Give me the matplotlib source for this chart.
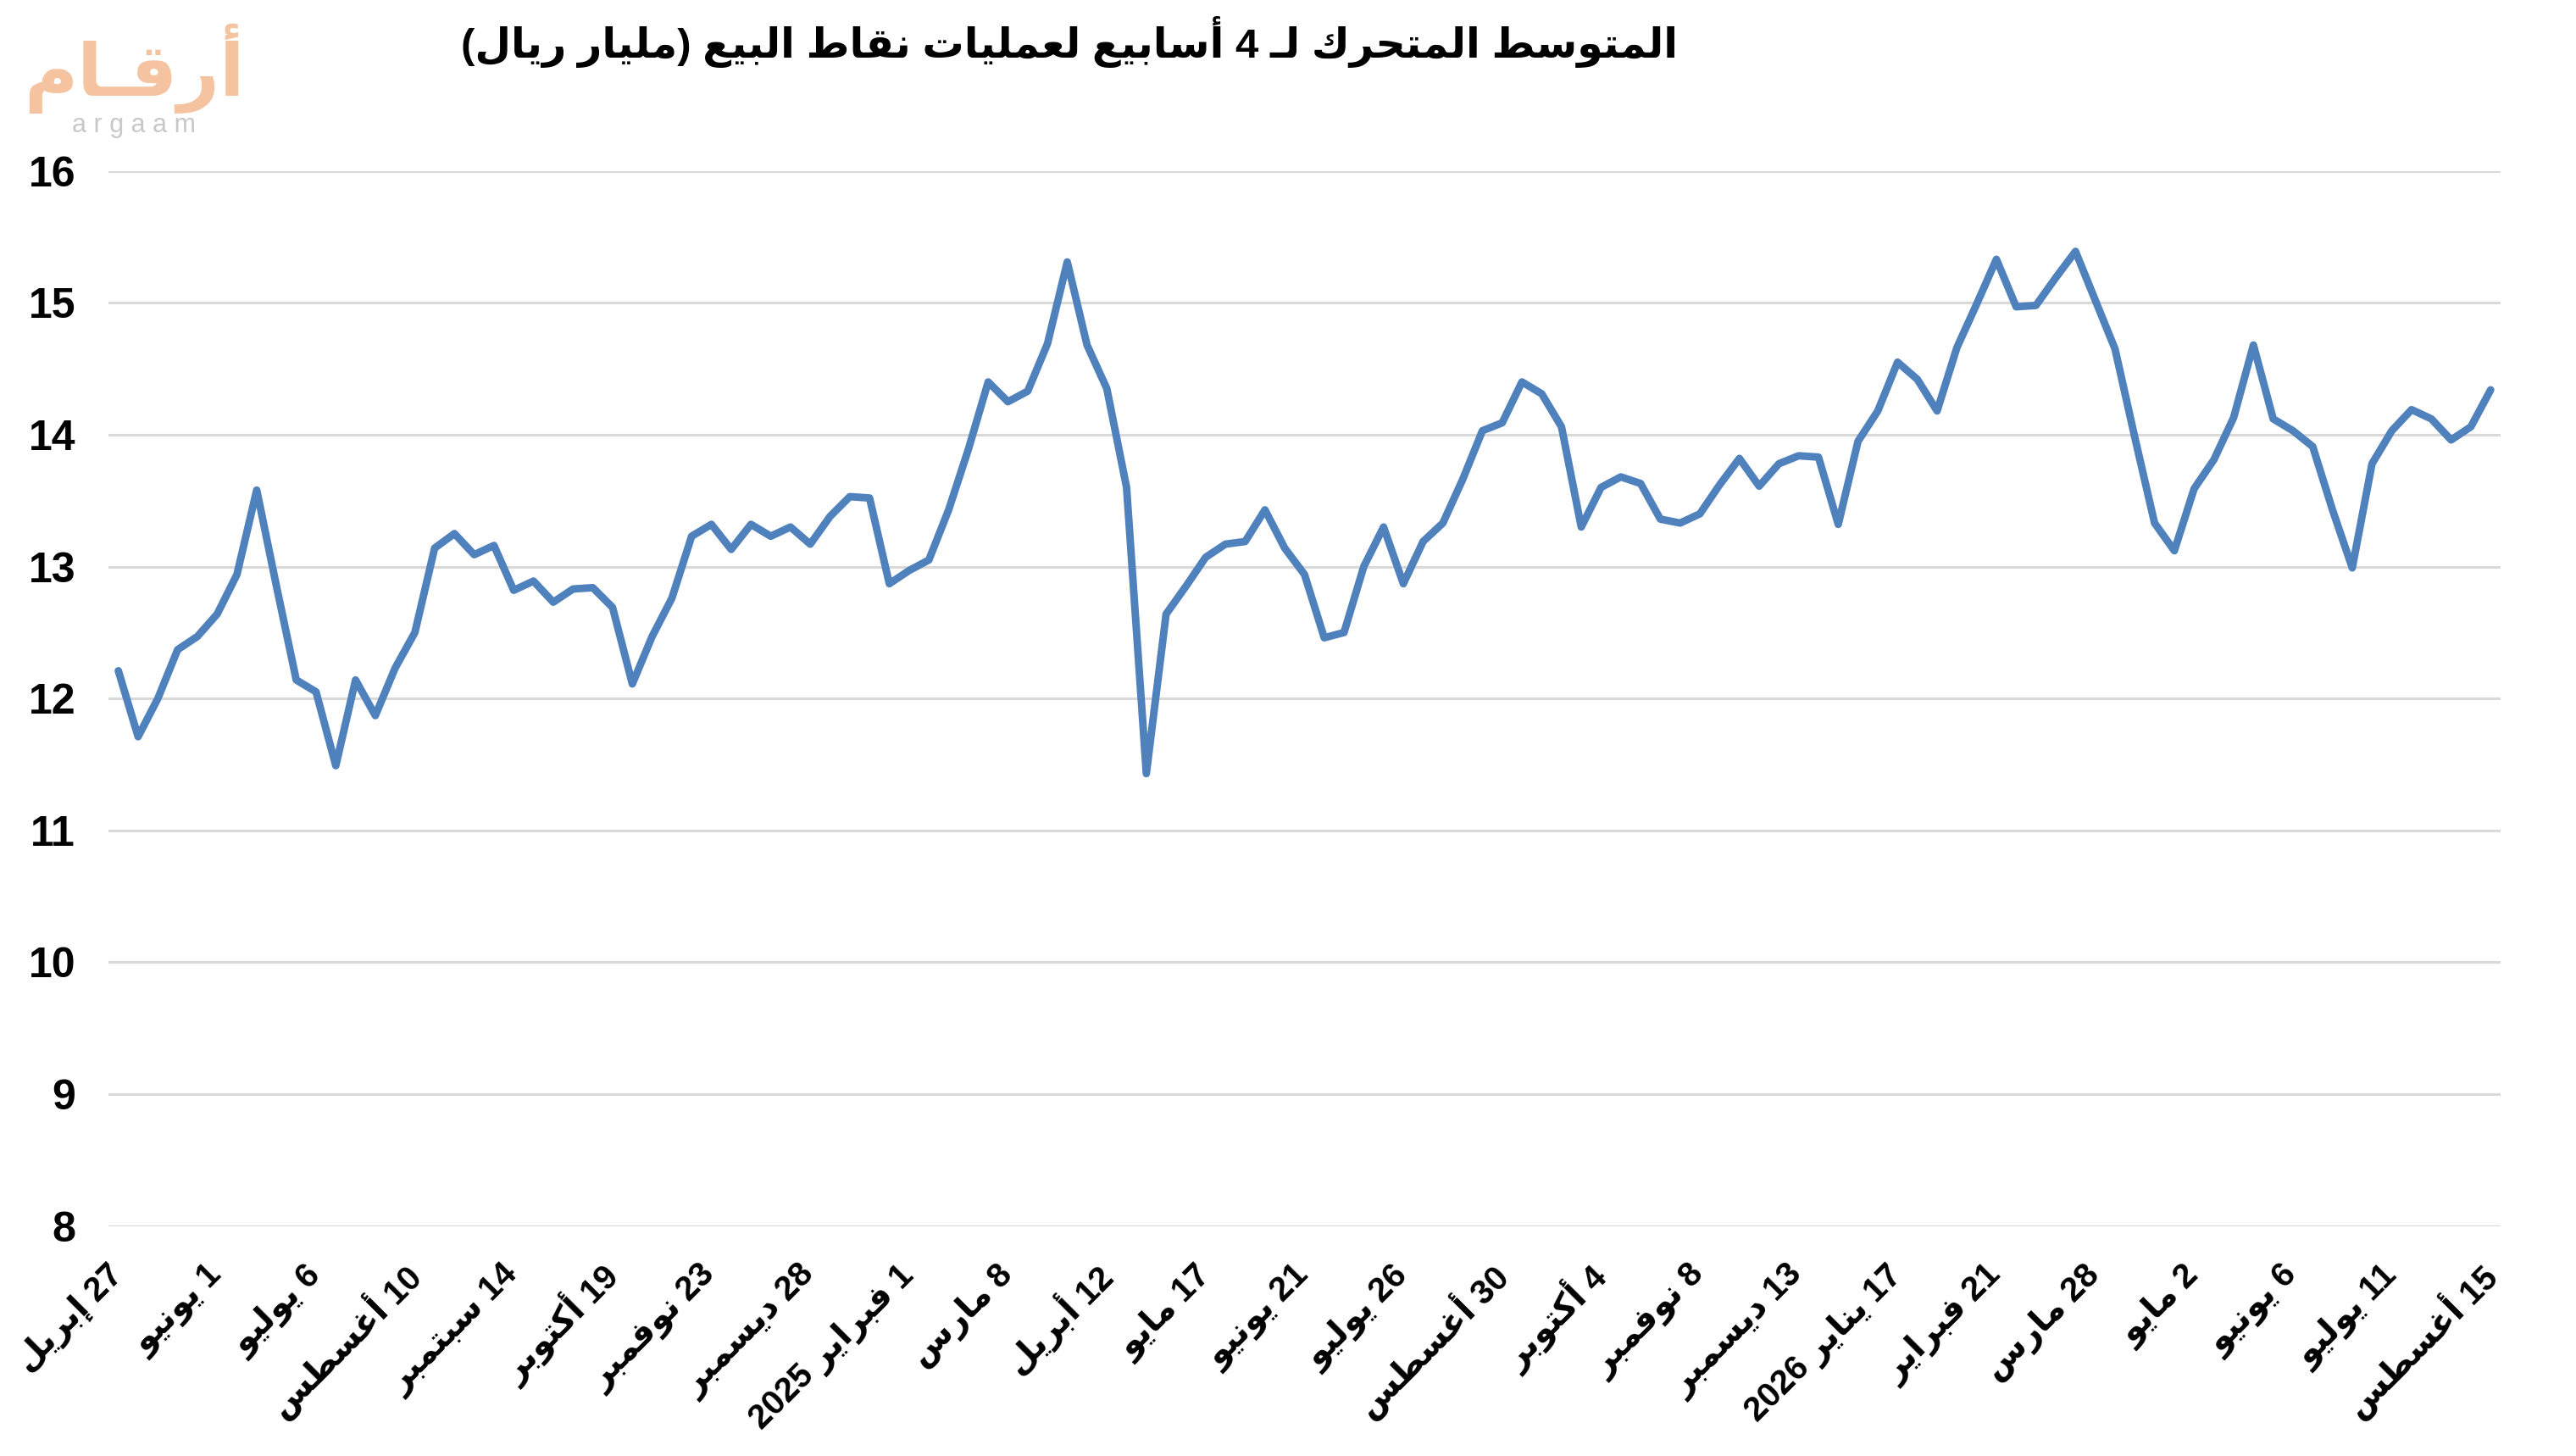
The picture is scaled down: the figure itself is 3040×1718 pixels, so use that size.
import re
import matplotlib
matplotlib.use("Agg")
import matplotlib.pyplot as plt
import numpy as np

# weekly 4-week moving average of POS transactions (billion SAR)
values = [
    12.21, 11.71, 12.00, 12.37, 12.47, 12.64, 12.94, 13.58, 12.85, 12.14,
    12.05, 11.49, 12.14, 11.87, 12.23, 12.50, 13.14, 13.25, 13.09, 13.16,
    12.82, 12.89, 12.73, 12.83, 12.84, 12.69, 12.11, 12.47, 12.76, 13.23,
    13.32, 13.13, 13.32, 13.23, 13.30, 13.17, 13.38, 13.53, 13.52, 12.87,
    12.97, 13.05, 13.43, 13.89, 14.40, 14.25, 14.33, 14.69, 15.31, 14.68,
    14.35, 13.60, 11.43, 12.64, 12.85, 13.07, 13.17, 13.19, 13.43, 13.14,
    12.94, 12.46, 12.50, 13.00, 13.30, 12.87, 13.19, 13.33, 13.66, 14.03,
    14.09, 14.40, 14.31, 14.06, 13.30, 13.60, 13.68, 13.63, 13.36, 13.33,
    13.40, 13.62, 13.82, 13.61, 13.78, 13.84, 13.83, 13.32, 13.95, 14.18,
    14.55, 14.42, 14.18, 14.66, 14.99, 15.33, 14.97, 14.98, 15.19, 15.39,
    15.02, 14.65, 13.98, 13.33, 13.12, 13.59, 13.81, 14.13, 14.68, 14.12,
    14.03, 13.91, 13.43, 12.99, 13.78, 14.03, 14.19, 14.12, 13.96, 14.06,
    14.34,
]

tick_labels = [
    "27 إبريل", "1 يونيو", "6 يوليو", "10 أغسطس", "14 سبتمبر", "19 أكتوبر",
    "23 نوفمبر", "28 ديسمبر", "1 فبراير 2025", "8 مارس", "12 أبريل", "17 مايو",
    "21 يونيو", "26 يوليو", "30 أغسطس", "4 أكتوبر", "8 نوفمبر", "13 ديسمبر",
    "17 يناير 2026", "21 فبراير", "28 مارس", "2 مايو", "6 يونيو", "11 يوليو",
    "15 أغسطس",
]
label_step = 5

yticks = [8, 9, 10, 11, 12, 13, 14, 15, 16]

title = "المتوسط المتحرك لـ 4 أسابيع لعمليات نقاط البيع (مليار ريال)"
logo_ar = "أرقـام"
logo_en = "a r g a a m"


# --- minimal arabic shaping (matplotlib has no text layout engine for it) ---
_table = [
    ("\u0621", 0xFE80, 1), ("\u0622", 0xFE81, 2), ("\u0623", 0xFE83, 2),
    ("\u0624", 0xFE85, 2), ("\u0625", 0xFE87, 2), ("\u0626", 0xFE89, 4),
    ("\u0627", 0xFE8D, 2), ("\u0628", 0xFE8F, 4), ("\u0629", 0xFE93, 2),
    ("\u062A", 0xFE95, 4), ("\u062B", 0xFE99, 4), ("\u062C", 0xFE9D, 4),
    ("\u062D", 0xFEA1, 4), ("\u062E", 0xFEA5, 4), ("\u062F", 0xFEA9, 2),
    ("\u0630", 0xFEAB, 2), ("\u0631", 0xFEAD, 2), ("\u0632", 0xFEAF, 2),
    ("\u0633", 0xFEB1, 4), ("\u0634", 0xFEB5, 4), ("\u0635", 0xFEB9, 4),
    ("\u0636", 0xFEBD, 4), ("\u0637", 0xFEC1, 4), ("\u0638", 0xFEC5, 4),
    ("\u0639", 0xFEC9, 4), ("\u063A", 0xFECD, 4), ("\u0641", 0xFED1, 4),
    ("\u0642", 0xFED5, 4), ("\u0643", 0xFED9, 4), ("\u0644", 0xFEDD, 4),
    ("\u0645", 0xFEE1, 4), ("\u0646", 0xFEE5, 4), ("\u0647", 0xFEE9, 4),
    ("\u0648", 0xFEED, 2), ("\u0649", 0xFEEF, 2), ("\u064A", 0xFEF1, 4),
]
FORMS = {c: tuple(chr(s + k) for k in range(n)) for c, s, n in _table}
LAM_ALEF = {"\u0622": 0xFEF5, "\u0623": 0xFEF7, "\u0625": 0xFEF9, "\u0627": 0xFEFB}
TATWEEL = "\u0640"


def _joins_prev(t):
    if isinstance(t, tuple):
        return True
    return t == TATWEEL or (t in FORMS and len(FORMS[t]) > 1)


def _joins_next(t):
    if isinstance(t, tuple):
        return False
    return t == TATWEEL or (t in FORMS and len(FORMS[t]) == 4)


def ar(text):
    toks = []
    i = 0
    while i < len(text):
        c = text[i]
        if c == "\u0644" and i + 1 < len(text) and text[i + 1] in LAM_ALEF:
            toks.append(("la", text[i + 1]))
            i += 2
        else:
            toks.append(c)
            i += 1
    out = []
    for k, t in enumerate(toks):
        prev = toks[k - 1] if k > 0 else None
        nxt = toks[k + 1] if k + 1 < len(toks) else None
        cp = prev is not None and _joins_next(prev) and _joins_prev(t)
        cn = nxt is not None and _joins_next(t) and _joins_prev(nxt)
        if isinstance(t, tuple):
            out.append(chr(LAM_ALEF[t[1]] + (1 if cp else 0)))
        elif t in FORMS:
            f = FORMS[t]
            if cp and cn:
                out.append(f[3])
            elif cp:
                out.append(f[1])
            elif cn:
                out.append(f[2])
            else:
                out.append(f[0])
        else:
            out.append(t)
    s = "".join(out)[::-1]
    s = re.sub(r"[0-9A-Za-z.]+", lambda m: m.group(0)[::-1], s)
    return s.translate(str.maketrans("()", ")("))


FONTS = ["Liberation Sans", "DejaVu Sans"]

fig = plt.figure(figsize=(15.2, 8.59), dpi=200)
ax = fig.add_axes([0.0421, 0.158, 0.9286, 0.7246])

x = np.arange(len(values))
ax.plot(x, values, color="#4F81BD", lw=3.2,
        solid_joinstyle="round", solid_capstyle="round", zorder=3)

ax.set_xlim(-0.5, len(values) - 0.5)
ax.set_ylim(yticks[0], yticks[-1])
ax.set_yticks(yticks)
ax.set_yticklabels([str(v) for v in yticks], family=FONTS,
                   fontweight="bold", fontsize=18)
for v in yticks:
    ax.axhline(v, color="#D9D9D9", lw=1.1, zorder=1)

ax.set_xticks(x[::label_step])
ax.set_xticklabels([ar(t) for t in tick_labels], family=FONTS,
                   fontweight="bold", fontsize=14.5, rotation=45,
                   ha="right", va="center", rotation_mode="anchor")
ax.tick_params(axis="both", length=0)
ax.tick_params(axis="y", pad=14)
ax.tick_params(axis="x", pad=19)
for sp in ax.spines.values():
    sp.set_visible(False)

fig.text(0.415, 0.971, ar(title), family=FONTS, fontweight="bold",
         fontsize=17.7, ha="center", va="center")

# watermark logo
fig.text(0.052, 0.953, ar(logo_ar), family=FONTS, fontweight="bold",
         fontsize=31, color="#F6C3A0", ha="center", va="center")
fig.text(0.052, 0.914, logo_en, family=FONTS, fontsize=11,
         color="#C8C8C8", ha="center", va="center")

fig.savefig("out.png", dpi=200, facecolor="white")
